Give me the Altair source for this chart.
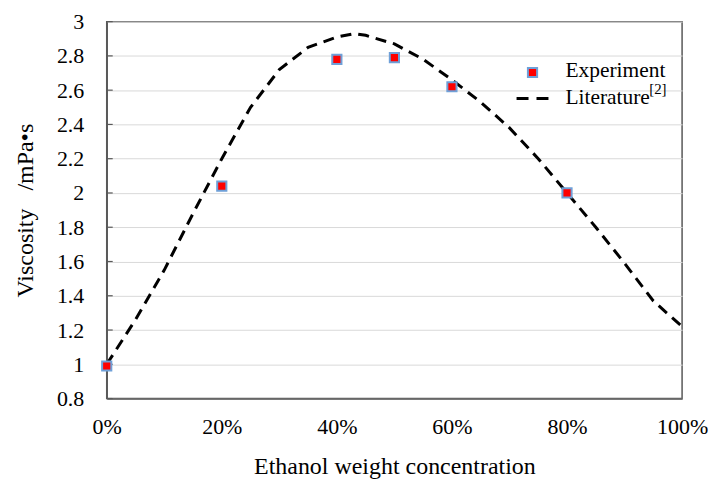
import altair as alt
import pandas as pd

lit_x = [0, 5, 10, 15, 20, 25, 30, 35, 40, 43, 45, 50, 55, 60, 65, 70, 75, 80, 85, 90, 95, 100]
lit_y = [1.0, 1.26, 1.55, 1.88, 2.2, 2.5, 2.72, 2.85, 2.91, 2.93, 2.92, 2.87, 2.78, 2.66, 2.53, 2.38, 2.2, 2.0, 1.8, 1.59, 1.37, 1.22]
exp_x = [0, 20, 40, 50, 60, 80]
exp_y = [0.99, 2.04, 2.78, 2.79, 2.62, 2.0]
y_ticks = [0.8, 1.0, 1.2, 1.4, 1.6, 1.8, 2.0, 2.2, 2.4, 2.6, 2.8, 3.0]
x_ticks = [0, 0.2, 0.4, 0.6, 0.8, 1.0]
legend_labels = ["Experiment", "Literature", "[2]"]

lit = pd.DataFrame({"x": [v / 100 for v in lit_x], "y": lit_y})
exp = pd.DataFrame({"x": [v / 100 for v in exp_x], "y": exp_y})
ticks = pd.DataFrame({"y": y_ticks})

FONT = "Liberation Serif"
FRAME = "#595959"

xscale = alt.Scale(domain=[0, 1], nice=False)
yscale = alt.Scale(domain=[0.8, 3.0], nice=False, zero=False)
xaxis = alt.Axis(format=".0%", values=x_ticks, labelFlush=False, labelOverlap=False,
                 title="Ethanol weight concentration", grid=False, labelFontSize=22, titleFontSize=24,
                 ticks=False, labelPadding=18, titlePadding=17)
yaxis = alt.Axis(values=y_ticks, labelFlush=False, labelOverlap=False,
                 labelExpr="format(datum.value, '.1~f')", labelFontSize=22, titleFontSize=24,
                 title="Viscosity\u00a0\u00a0\u00a0/mPa\u2022s", grid=True,
                 ticks=False, labelPadding=23, titlePadding=19)
xenc = alt.X("x:Q", scale=xscale, axis=xaxis)
yenc = alt.Y("y:Q", scale=yscale, axis=yaxis)

tickmarks = alt.Chart(ticks).mark_rule(color=FRAME, strokeWidth=1.2).encode(
    x=alt.value(0), x2=alt.value(6), y=alt.Y("y:Q", scale=yscale, axis=yaxis))
line = alt.Chart(lit).mark_line(color="black", strokeWidth=3, strokeDash=[11, 7]).encode(x=xenc, y=yenc)
pts = alt.Chart(exp).mark_point(shape="square", filled=True, fill="#ff0000", stroke="#6fa0d8",
                                strokeWidth=2, size=85, opacity=1).encode(x=xenc, y=yenc)

one = pd.DataFrame({"a": [0]})
leg_pt = alt.Chart(one).mark_point(shape="square", filled=True, fill="#ff0000",
    stroke="#6fa0d8", strokeWidth=2, size=85, opacity=1).encode(x=alt.value(427), y=alt.value(51))
leg_ln = alt.Chart(one).mark_rule(color="black", strokeWidth=3, strokeDash=[12, 8]).encode(
    x=alt.value(411), x2=alt.value(446), y=alt.value(77))
leg_t1 = alt.Chart(pd.DataFrame({"t": [legend_labels[0]]})).mark_text(
    font=FONT, fontSize=21.5, align="left", baseline="middle", color="black").encode(
    x=alt.value(460), y=alt.value(50), text="t:N")
leg_t2 = alt.Chart(pd.DataFrame({"t": [legend_labels[1]]})).mark_text(
    font=FONT, fontSize=21.5, align="left", baseline="middle", color="black").encode(
    x=alt.value(460), y=alt.value(77), text="t:N")
leg_t3 = alt.Chart(pd.DataFrame({"t": [legend_labels[2]]})).mark_text(
    font=FONT, fontSize=15, align="left", baseline="middle", color="black").encode(
    x=alt.value(544), y=alt.value(68), text="t:N")

chart = alt.layer(tickmarks, line, pts, leg_pt, leg_ln, leg_t1, leg_t2, leg_t3).properties(
    width=577, height=378, background="white",
    padding={"left": 5, "top": 2, "right": 5, "bottom": 0}
).configure_view(stroke=FRAME, strokeWidth=1.5).configure_axis(
    labelFont=FONT, titleFont=FONT,
    labelColor="black", titleColor="black", titleFontWeight="normal",
    domainColor=FRAME, gridColor="#d9d9d9", domainWidth=1.5
)

chart.save("out.html", embed_options={"renderer": "svg", "actions": False})
